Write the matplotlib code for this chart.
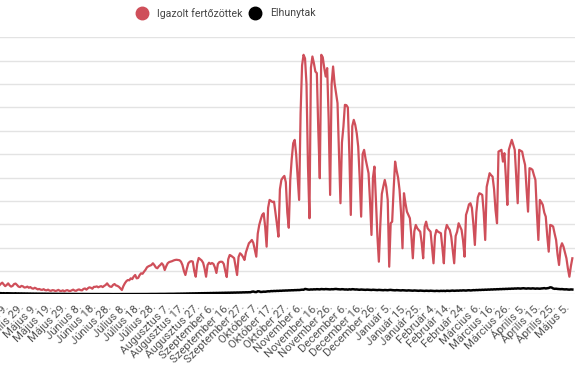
import matplotlib
matplotlib.use("Agg")
import matplotlib.pyplot as plt
from matplotlib.lines import Line2D

plt.rcParams['font.family'] = ['Roboto', 'DejaVu Sans']

# napi adatok (a kép alapján becsülve)
igazolt = [
    380, 450, 500, 420, 350, 400, 470, 380, 330, 360,
    440, 460, 400, 330, 310, 360, 340, 290, 300, 330,
    280, 310, 260, 240, 280, 250, 210, 230, 200, 190,
    220, 180, 170, 200, 160, 150, 180, 170, 140, 160,
    190, 150, 140, 170, 130, 160, 180, 150, 140, 170,
    200, 160, 150, 190, 210, 180, 170, 230, 250, 200,
    260, 300, 280, 240, 320, 320, 340, 300, 330, 350,
    310, 360, 400, 470, 380, 330, 320, 400, 440, 380,
    360, 320, 250, 185, 350, 470, 560, 613, 600, 685,
    650, 760, 827, 685, 700, 820, 900, 880, 970, 1050,
    1157, 1200, 1230, 1255, 1330, 1250, 1150, 1115, 1200, 1255,
    1330, 1250, 1040, 1200, 1330, 1380, 1400, 1420, 1450, 1470,
    1480, 1470, 1460, 1400, 1255, 1000, 827, 1100, 1330, 1397,
    1420, 1400, 1000, 754, 1300, 1556, 1500, 1450, 1350, 1100,
    754, 1250, 1354, 1300, 1340, 1300, 1150, 913, 1300, 1380,
    1397, 1390, 1300, 1000, 741, 1500, 1684, 1650, 1600, 1550,
    1200, 827, 1600, 1757, 1700, 1600, 1470, 1800, 2000, 2186,
    2250, 2327, 2200, 1900, 1612, 2600, 2970, 3200, 3400, 3472,
    2900, 2040, 3700, 4042, 4000, 3950, 3969, 3500, 3000, 2469,
    4500, 4899, 5000, 5070, 4800, 3500, 2850, 4899, 5800, 6472,
    6613, 6000, 5040, 4042, 7757, 9800, 10256, 10100, 9000, 5500,
    3257, 9700, 10183, 9900, 9540, 9470, 7000, 4972, 10256, 10150,
    9700, 9326, 9686, 7500, 4256, 9000, 9755, 9043, 8600, 8186,
    6000, 3900, 6500, 7183, 8113, 8100, 8000, 6000, 3399, 7200,
    7470, 7256, 6900, 6326, 5000, 3326, 6000, 6185, 5800, 5500,
    5186, 4000, 2542, 5000, 5469, 4042, 2500, 1397, 3000, 4300,
    4612, 4899, 4600, 4042, 1183, 3043, 3112, 4500, 5683, 5300,
    5000, 4470, 3500, 1972, 4329, 3900, 3540, 3400, 3257, 2500,
    1543, 2700, 2970, 2829, 2750, 2683, 2200, 1543, 2900, 3112,
    2829, 2750, 2683, 2000, 1329, 2500, 2756, 2683, 2650, 2614,
    2000, 1329, 2700, 2970, 2850, 2756, 2469, 1900, 1329, 2500,
    2683, 3043, 2900, 2756, 2300, 1612, 3399, 3600, 3850, 3900,
    3700, 3000, 2113, 3500, 4150, 4329, 4300, 4256, 3500, 2327,
    4600, 4899, 5186, 5100, 5040, 4500, 3600, 3043, 6112, 6150,
    6185, 5683, 6043, 5000, 3827, 6185, 6400, 6613, 6400, 6185,
    5000, 3900, 6185, 6150, 6112, 5800, 5542, 4500, 3540, 5400,
    5380, 5330, 5100, 4899, 3500, 2327, 4042, 3950, 3827, 3500,
    3326, 2500, 1826, 2970, 2950, 2900, 2600, 2327, 1700, 1256,
    2000, 2186, 2040, 1800, 1543, 1100, 754, 1200, 1543,
]

elhunytak = [
    45, 50, 42, 48, 40, 46, 44, 38, 42, 40,
    38, 44, 36, 40, 35, 38, 34, 36, 32, 35,
    30, 33, 28, 31, 27, 30, 26, 28, 25, 27,
    24, 26, 22, 25, 21, 23, 20, 22, 19, 21,
    18, 20, 17, 19, 16, 18, 15, 17, 14, 16,
    15, 14, 16, 13, 15, 12, 14, 13, 12, 14,
    12, 13, 11, 12, 10, 12, 11, 10, 12, 11,
    10, 11, 9, 10, 11, 9, 10, 8, 10, 9,
    9, 10, 8, 9, 10, 8, 9, 10, 9, 8,
    10, 9, 11, 10, 9, 12, 11, 10, 12, 13,
    12, 14, 13, 15, 14, 16, 15, 17, 16, 18,
    17, 19, 18, 20, 19, 22, 21, 23, 22, 25,
    24, 27, 26, 30, 28, 32, 30, 35, 33, 38,
    36, 40, 38, 42, 40, 45, 43, 48, 46, 50,
    48, 52, 50, 55, 52, 58, 55, 60, 57, 62,
    60, 65, 62, 68, 65, 70, 67, 72, 70, 75,
    72, 78, 75, 80, 78, 85, 82, 88, 85, 90,
    88, 110, 120, 100, 95, 130, 125, 100, 105, 115,
    110, 120, 130, 125, 140, 135, 145, 140, 150, 145,
    155, 150, 160, 158, 165, 162, 170, 168, 175, 172,
    180, 178, 185, 182, 190, 200, 195, 230, 220, 205,
    200, 210, 205, 215, 210, 220, 215, 210, 225, 220,
    215, 225, 220, 215, 210, 220, 215, 225, 230, 220,
    215, 210, 220, 215, 205, 210, 200, 215, 205, 220,
    215, 205, 210, 200, 195, 205, 200, 195, 190, 200,
    195, 190, 185, 195, 190, 185, 180, 190, 185, 180,
    175, 185, 180, 175, 185, 190, 180, 175, 170, 180,
    175, 170, 165, 175, 170, 165, 160, 170, 165, 160,
    155, 165, 160, 155, 150, 160, 155, 150, 145, 155,
    150, 145, 155, 150, 145, 140, 150, 145, 140, 150,
    145, 150, 140, 155, 150, 145, 155, 160, 150, 155,
    160, 155, 165, 160, 170, 165, 160, 170, 175, 165,
    170, 180, 175, 185, 180, 190, 185, 195, 190, 200,
    195, 205, 200, 210, 205, 215, 210, 220, 215, 225,
    220, 230, 225, 235, 230, 240, 235, 245, 240, 250,
    245, 255, 250, 245, 255, 260, 250, 245, 255, 250,
    245, 255, 250, 240, 250, 245, 240, 250, 255, 265,
    250, 260, 270, 300, 290, 250, 235, 240, 230, 225,
    220, 225, 215, 210, 215, 205, 200, 210, 205,
]

# tengelyfeliratok, minden 10. nap
datum_cimkek = [
    "Április 19.", "Április 29.", "Május 9.", "Május 19.", "Május 29.",
    "Június 8.", "Június 18.", "Június 28.", "Július 8.", "Július 18.",
    "Július 28.", "Augusztus 7.", "Augusztus 17.", "Augusztus 27.",
    "Szeptember 6.", "Szeptember 16.", "Szeptember 27.", "Október 7.",
    "Október 17.", "Október 27.", "November 6.", "November 16.",
    "November 26.", "December 6.", "December 16.", "December 26.",
    "Január 5.", "Január 15.", "Január 25.", "Február 4.", "Február 14.",
    "Február 24.", "Március 6.", "Március 16.", "Március 26.",
    "Április 5.", "Április 15.", "Április 25.", "Május 5.",
]
cimke_helyek = [5 + 10 * i for i in range(len(datum_cimkek))]

PIROS = "#cf4f5a"

fig = plt.figure(figsize=(5.75, 3.89), dpi=100)
# a bal oldali tengely a kivágott képen nem látszik
ax = fig.add_axes([0.0, 0.2434, 1.0, 0.6604])

napok = range(len(igazolt))
ax.plot(napok, igazolt, color=PIROS, lw=1.6, solid_joinstyle="round")
ax.plot(range(len(elhunytak)), elhunytak, color="black", lw=1.8)

ax.set_xlim(0.47, 389.8)
ax.set_ylim(0, 11000)
ax.set_yticks(range(0, 11001, 1000))
ax.yaxis.grid(True, color="#e3e3e3", lw=1)
ax.set_axisbelow(True)
ax.tick_params(axis="y", length=0, labelleft=False)

ax.set_xticks(cimke_helyek)
ax.set_xticklabels(datum_cimkek, rotation=45, ha="right", va="center",
                   rotation_mode="anchor", fontsize=8.2, color="#555555")
ax.tick_params(axis="x", length=0, pad=8)

for s in ax.spines.values():
    s.set_visible(False)

# jelmagyarázat felül középen
fig.add_artist(Line2D([141.7 / 575], [1 - 13.3 / 389], marker="o", ms=9,
                      color=PIROS, transform=fig.transFigure, lw=0))
fig.text(156.7 / 575, 1 - 13.3 / 389, "Igazolt fertőzöttek", fontsize=7.6,
         color="#444444", va="center", ha="left")
fig.add_artist(Line2D([255 / 575], [1 - 13.3 / 389], marker="o", ms=9,
                      color="black", transform=fig.transFigure, lw=0))
fig.text(270 / 575, 1 - 13.3 / 389, "Elhunytak", fontsize=7.6,
         color="#444444", va="center", ha="left")

fig.savefig("out.png", dpi=100)
